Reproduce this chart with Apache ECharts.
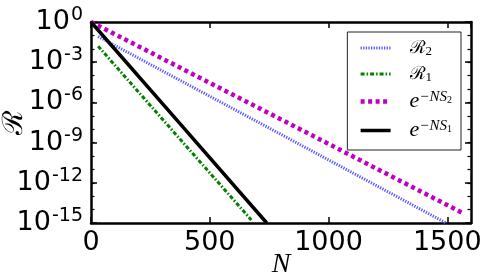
<!DOCTYPE html>
<html><head><meta charset="utf-8">
<script src="https://cdn.jsdelivr.net/npm/echarts@6/dist/echarts.min.js"></script>
<style>html,body{margin:0;padding:0;background:#fff}#c{width:485px;height:277px}</style>
</head><body><div id="c"></div>
<script>
// Data (N, R)
const nR2 = [30, 800, 1495];
const rR2 = [0.083, 4.1e-9, 1e-15];
const nR1 = [30, 350, 675];
const rR1 = [0.0158, 5.7e-9, 1.7e-15];
const nES2 = [0, 800, 1570];
const rES2 = [1, 5.4e-8, 5e-15];
const nES1 = [0, 370, 740];
const rES1 = [1, 3.2e-8, 1e-15];
const xTicks = [0, 500, 1000, 1500];
const seriesNames = ['R2', 'R1', 'S2', 'S1'];

const pairs = (xs, ys) => xs.map((x, i) => [x, ys[i]]);
const chart = echarts.init(document.getElementById('c'), null, {renderer: 'canvas'});
const legendRich = {
  it: {fontFamily: 'Liberation Serif', fontStyle: 'italic', fontSize: 22, color: '#000', lineHeight: 22},
  cal: {fontFamily: 'DejaVu Serif', fontSize: 18, color: '#000', lineHeight: 22},
  sub: {fontFamily: 'Liberation Serif', fontSize: 13, color: '#000', padding: [7, 0, 0, 0], lineHeight: 22},
  sup: {fontFamily: 'Liberation Serif', fontStyle: 'italic', fontSize: 15, color: '#000', padding: [0, 0, 8, 0], lineHeight: 22},
  supsub: {fontFamily: 'Liberation Serif', fontSize: 10, color: '#000', padding: [0, 0, 3, 0], lineHeight: 22}
};
const legendText = {
  R2: '{cal|ℛ}{sub|2}',
  R1: '{cal|ℛ}{sub|1}',
  S2: '{it|e}{sup|−NS}{supsub|2}',
  S1: '{it|e}{sup|−NS}{supsub|1}'
};
const tickFont = {fontFamily: 'DejaVu Sans', fontSize: 27, color: '#000'};
const frame = {show: true, lineStyle: {color: '#000', width: 2.5}};
const majorTick = {show: true, inside: true, length: 6, lineStyle: {color: '#000', width: 1.5}};
const minorTickS = {show: true, inside: true, length: 3.5, lineStyle: {color: '#000', width: 1.2}};
const yBase = {type: 'log', logBase: 10, min: 1e-15, max: 1, splitLine: {show: false}, minorTick: {show: false}};
chart.setOption({
  animation: false,
  grid: {left: 91, right: 14, top: 22, bottom: 54, outerBoundsMode: 'none', containLabel: false},
  legend: {
    right: 24, top: 32, orient: 'vertical',
    data: seriesNames,
    itemWidth: 30, itemHeight: 12, itemGap: 6,
    padding: [6, 9, 8, 11],
    borderColor: '#222', borderWidth: 1, backgroundColor: '#fff',
    itemStyle: {opacity: 0},
    lineStyle: {width: 'inherit'},
    formatter: n => legendText[n],
    textStyle: {rich: legendRich, padding: [0, 0, 0, 14]}
  },
  xAxis: [{
    type: 'value', min: 0, max: 1600, interval: 500,
    name: 'N', nameLocation: 'middle', nameGap: 28, nameMoveOverlap: false,
    nameTextStyle: {fontFamily: 'Liberation Serif', fontStyle: 'italic', fontSize: 28, color: '#000'},
    axisLine: frame, axisTick: majorTick,
    axisLabel: Object.assign({margin: 6, showMaxLabel: false, formatter: v => xTicks.includes(v) ? String(v) : ''}, tickFont),
    splitLine: {show: false}
  }, {
    type: 'value', min: 0, max: 1600, interval: 500, position: 'top',
    axisLine: frame, axisTick: majorTick,
    axisLabel: {show: false}, splitLine: {show: false}
  }],
  yAxis: [Object.assign({}, yBase, {
    interval: 3, position: 'left',
    name: 'ℛ', nameLocation: 'middle', nameGap: 62, nameRotate: 90, nameMoveOverlap: false,
    nameTextStyle: {fontFamily: 'DejaVu Serif', fontSize: 28, color: '#000'},
    axisLine: frame, axisTick: majorTick,
    axisLabel: {
      margin: 8,
      formatter: v => '{b|10}{s|' + Math.round(Math.log10(v)) + '}',
      rich: {
        b: {fontFamily: 'DejaVu Sans', fontSize: 27, color: '#000'},
        s: {fontFamily: 'DejaVu Sans', fontSize: 19, color: '#000', padding: [0, 0, 14, 1]}
      }
    }
  }), Object.assign({}, yBase, {
    interval: 1, position: 'left', offset: 0,
    axisLine: {show: false}, axisTick: minorTickS, axisLabel: {show: false}
  }), Object.assign({}, yBase, {
    interval: 3, position: 'right', offset: 0,
    axisLine: frame, axisTick: majorTick, axisLabel: {show: false}
  }), Object.assign({}, yBase, {
    interval: 1, position: 'right', offset: 0,
    axisLine: {show: false}, axisTick: minorTickS, axisLabel: {show: false}
  })],
  series: [
    {name: 'R2', type: 'line', symbol: 'none', data: pairs(nR2, rR2), z: 2,
     lineStyle: {color: '#5a5aff', width: 3, type: [1.3, 1.3]}, itemStyle: {color: '#5a5aff'}},
    {name: 'R1', type: 'line', symbol: 'none', data: pairs(nR1, rR1), z: 2,
     lineStyle: {color: '#008000', width: 3, type: [4, 2, 1.5, 2]}, itemStyle: {color: '#008000'}},
    {name: 'S2', type: 'line', symbol: 'none', data: pairs(nES2, rES2), z: 3,
     lineStyle: {color: '#bf00bf', width: 4.5, type: [4, 3.5]}, itemStyle: {color: '#bf00bf'}},
    {name: 'S1', type: 'line', symbol: 'none', data: pairs(nES1, rES1), z: 4,
     lineStyle: {color: '#000', width: 3.5}, itemStyle: {color: '#000'}}
  ]
});
</script></body></html>
